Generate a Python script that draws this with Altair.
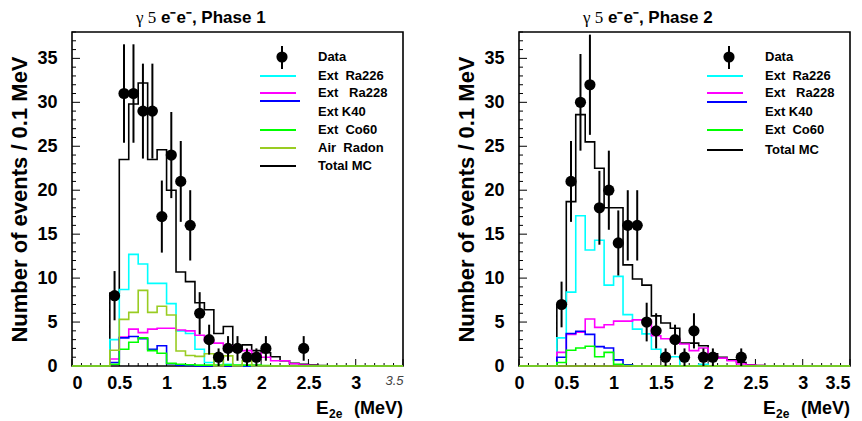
import altair as alt
import pandas as pd

# histograms are 0.1 MeV bins from 0 to 3.5 MeV, the lists below start at the 0.4 MeV bin
edges = [round(0.1 * i, 1) for i in range(36)]
first_bin = 4

# Phase 1 (events / 0.1 MeV)
p1_total = [8.3, 23.5, 29.8, 32.2, 23.5, 24.6, 20.0, 10.7, 9.6, 7.2, 6.4, 3.7, 4.5,
            2.2, 2.4, 1.75, 1.5, 1.05, 0.6, 0.3, 0.2, 0.1, 0.05]
p1_ra226 = [3.0, 8.7, 12.7, 11.6, 9.4, 9.4, 7.1, 4.0, 3.7, 1.9, 0.4, 0.7, 0.2, 0.05]
p1_ra228 = [0.8, 3.3, 4.2, 3.8, 4.2, 4.3, 4.3, 4.1, 4.0, 3.5, 2.9, 2.6, 2.3, 2.05,
            1.75, 1.45, 1.0, 0.6, 0.6, 0.25, 0.1, 0.05]
p1_k40 = [0.4, 3.2, 3.35, 3.1, 1.9, 2.3, 0.25, 0.1, 0.05]
p1_co60 = [0.2, 1.9, 2.7, 3.2, 1.75, 1.45, 0.3, 0.2, 0.15, 0.1, 0.1, 0.1, 0.1, 0.1,
           0.1, 0.1, 0.05]
p1_radon = [1.8, 5.3, 6.1, 8.6, 6.1, 6.8, 5.8, 1.7, 1.2, 1.1, 1.4, 0.0, 1.15, 0.0, 0.6]
p1_x = [0.45, 0.55, 0.65, 0.75, 0.85, 0.95, 1.05, 1.15, 1.25, 1.35, 1.45, 1.55, 1.65,
        1.75, 1.85, 1.95, 2.05, 2.45]
p1_n = [8, 31, 31, 29, 29, 17, 24, 21, 16, 6, 3, 1, 2, 2, 1, 1, 2, 2]
p1_err = [2.8, 5.6, 5.6, 5.4, 5.4, 4.1, 4.9, 4.6, 4.0, 2.4, 1.7, 1.0, 1.4, 1.4, 1.0,
          1.0, 1.4, 1.4]

# Phase 2
p2_total = [7.0, 18.7, 28.6, 25.5, 22.5, 18.0, 18.0, 11.5, 9.9, 9.2, 5.7, 4.9, 4.3,
            2.6, 2.6, 2.3, 1.4, 1.0, 0.7, 0.4, 0.15, 0.05]
p2_ra226 = [3.2, 8.4, 17.1, 13.2, 14.3, 9.2, 10.2, 5.85, 4.2, 3.65, 1.9, 1.06, 1.06,
            0.0, 0.0, 0.2]
p2_ra228 = [1.55, 3.6, 3.85, 5.35, 4.4, 4.7, 5.1, 5.1, 5.25, 5.2, 3.45, 3.1, 3.0, 2.5,
            1.75, 2.05, 1.2, 0.9, 0.6, 0.23, 0.1, 0.05]
p2_k40 = [1.0, 3.7, 3.95, 3.6, 2.2, 2.05, 0.7, 0.15]
p2_co60 = [0.4, 1.8, 2.05, 2.25, 1.06, 1.55, 0.2, 0.05]
p2_radon = []
p2_x = [0.45, 0.55, 0.65, 0.75, 0.85, 0.95, 1.05, 1.15, 1.25, 1.35, 1.45, 1.55, 1.65,
        1.75, 1.85, 1.95, 2.05, 2.35]
p2_n = [7, 21, 30, 32, 18, 20, 14, 16, 16, 5, 4, 1, 3, 1, 4, 1, 1, 1]
p2_err = [2.6, 4.6, 5.5, 5.7, 4.2, 4.5, 3.7, 4.0, 4.0, 2.2, 2.0, 1.0, 1.7, 1.0, 2.0,
          1.0, 1.0, 1.0]

x_labels = [0, 0.5, 1, 1.5, 2, 2.5, 3, 3.5]
y_labels = [0, 5, 10, 15, 20, 25, 30, 35]

C_TOT, C_226, C_228 = "black", "#00ffff", "#ff00ff"
C_K40, C_CO, C_RN = "#0000ff", "#00ff00", "#99cc22"
FONT = "Liberation Sans"
W, H = 331, 334
xsc = alt.Scale(domain=[0, 3.5], nice=False, zero=False)
ysc = alt.Scale(domain=[0, 38], nice=False)
one = pd.DataFrame({"a": [0]})


def hist_frame(vals):
    full = [0.0] * first_bin + list(vals)
    full = full + [0.0] * (35 - len(full))
    return pd.DataFrame({"x": edges, "y": full + [full[-1]]})


def make_x_axis(phase):
    is_last = "datum.value == 3.5"
    if phase == 1:
        # the 3.5 label is drawn thin and italic on the first panel
        return alt.Axis(values=x_labels, title=None, grid=False, domain=False, ticks=False,
                        labelExpr="'' + datum.value", labelFont=FONT, labelPadding=8,
                        labelColor=alt.condition(is_last, alt.value("#444444"), alt.value("black")),
                        labelFontSize=alt.condition(is_last, alt.value(13), alt.value(18)),
                        labelFontWeight=alt.condition(is_last, alt.value("normal"), alt.value("bold")),
                        labelFontStyle=alt.condition(is_last, alt.value("italic"), alt.value("normal")))
    return alt.Axis(values=x_labels, title=None, grid=False, domain=False, ticks=False,
                    labelExpr="'' + datum.value", labelFont=FONT, labelPadding=8,
                    labelColor="black", labelFontSize=18, labelFontWeight="bold",
                    labelAlign=alt.condition(is_last, alt.value("right"), alt.value("center")))


y_axis = alt.Axis(values=y_labels, title="Number of events / 0.1 MeV", grid=False,
                  domain=False, ticks=False, labelFont=FONT, labelFontSize=18,
                  labelFontWeight="bold", labelColor="black", labelPadding=15,
                  titleFont=FONT, titleFontSize=22, titleFontWeight="bold",
                  titleColor="black", titlePadding=5)


def panel(phase, hists, dx, dn, derr, legend_rows):
    x_axis = make_x_axis(phase)
    X = lambda f: alt.X(f, type="quantitative", scale=xsc, axis=x_axis)
    Y = lambda f: alt.Y(f, type="quantitative", scale=ysc, axis=y_axis)
    layers = []

    # inward ticks
    xt = pd.DataFrame({"x": edges})
    xt["len"] = [7 if round(v * 10) % 5 == 0 else 3 for v in edges]
    for ln in (3, 7):
        layers.append(alt.Chart(xt[xt["len"] == ln]).mark_rule(color="black", strokeWidth=1).encode(
            x=X("x"), y=alt.value(H), y2=alt.value(H - ln)))
    yt = pd.DataFrame({"y": list(range(39))})
    yt["len"] = [8 if v % 5 == 0 else 4 for v in yt["y"]]
    for ln in (4, 8):
        layers.append(alt.Chart(yt[yt["len"] == ln]).mark_rule(color="black", strokeWidth=1).encode(
            y=Y("y"), x=alt.value(0), x2=alt.value(ln)))

    # MC histograms
    for vals, col in hists:
        layers.append(alt.Chart(hist_frame(vals)).mark_line(
            interpolate="step-after", color=col, strokeWidth=1.6).encode(x=X("x"), y=Y("y")))

    # data with error bars
    dd = pd.DataFrame({"x": dx, "n": dn, "err": derr})
    dd["lo"] = dd["n"] - dd["err"]
    dd["hi"] = dd["n"] + dd["err"]
    layers.append(alt.Chart(dd).mark_rule(color="black", strokeWidth=2).encode(
        x=X("x"), y=Y("lo"), y2="hi"))
    layers.append(alt.Chart(dd).mark_circle(color="black", size=125, opacity=1).encode(
        x=X("x"), y=Y("n")))

    # legend
    lx0, lx1, tx = 188, 224, 246
    layers.append(alt.Chart(one).mark_circle(color="black", size=125, opacity=1).encode(
        x=alt.value(210), y=alt.value(25)))
    layers.append(alt.Chart(one).mark_rule(color="black", strokeWidth=2).encode(
        x=alt.value(210), y=alt.value(14), y2=alt.value(37)))
    layers.append(alt.Chart(one).mark_text(text="Data", align="left", baseline="middle",
                                           font=FONT, fontSize=13, fontWeight="bold").encode(
        x=alt.value(tx), y=alt.value(25)))
    for label, col, ly, ty, ext in legend_rows:
        layers.append(alt.Chart(one).mark_rule(color=col, strokeWidth=2).encode(
            x=alt.value(lx0), x2=alt.value(lx1 + ext), y=alt.value(ly)))
        layers.append(alt.Chart(one).mark_text(text=label, align="left", baseline="middle",
                                               font=FONT, fontSize=13, fontWeight="bold").encode(
            x=alt.value(tx), y=alt.value(ty)))

    # panel title: serif gamma part + bold sans part
    layers.append(alt.Chart(one).mark_text(text="γ 5", align="left", baseline="middle",
                                           font="Liberation Serif", fontSize=17).encode(
        x=alt.value(64), y=alt.value(-14)))
    layers.append(alt.Chart(one).mark_text(text=f"e\u207be\u207b, Phase {phase}", align="left",
                                           baseline="middle", font=FONT, fontSize=17,
                                           fontWeight="bold").encode(
        x=alt.value(89), y=alt.value(-14)))

    # x axis title E_2e (MeV)
    layers.append(alt.Chart(one).mark_text(text="E", align="left", baseline="alphabetic",
                                           font=FONT, fontSize=19, fontWeight="bold").encode(
        x=alt.value(244), y=alt.value(382)))
    layers.append(alt.Chart(one).mark_text(text="2e", align="left", baseline="alphabetic",
                                           font=FONT, fontSize=12, fontWeight="bold").encode(
        x=alt.value(257), y=alt.value(386)))
    layers.append(alt.Chart(one).mark_text(text="(MeV)", align="right", baseline="alphabetic",
                                           font=FONT, fontSize=18, fontWeight="bold").encode(
        x=alt.value(W), y=alt.value(382)))

    return alt.layer(*layers).properties(width=W, height=H)


rows1 = [("Ext\u00a0 Ra226", C_226, 44, 44, 0),
         ("Ext\u00a0\u00a0 Ra228", C_228, 61, 61, 0),
         ("Ext K40", C_K40, 69, 80, 4),
         ("Ext\u00a0 Co60", C_CO, 98, 98, 0),
         ("Air\u00a0 Radon", C_RN, 116, 116, 0),
         ("Total MC", C_TOT, 134, 134, 0)]
rows2 = [("Ext\u00a0 Ra226", C_226, 44, 44, 0),
         ("Ext\u00a0\u00a0 Ra228", C_228, 61, 61, 0),
         ("Ext K40", C_K40, 70, 80, 4),
         ("Ext\u00a0 Co60", C_CO, 98, 98, 0),
         ("Total MC", C_TOT, 118, 118, 0)]

h1 = [(p1_total, C_TOT), (p1_ra226, C_226), (p1_ra228, C_228), (p1_k40, C_K40),
      (p1_co60, C_CO), (p1_radon, C_RN)]
h2 = [(p2_total, C_TOT), (p2_ra226, C_226), (p2_ra228, C_228), (p2_k40, C_K40),
      (p2_co60, C_CO), (p2_radon, C_RN)]

chart = alt.hconcat(
    panel(1, h1, p1_x, p1_n, p1_err, rows1),
    panel(2, h2, p2_x, p2_n, p2_err, rows2),
    spacing=48,
).properties(
    padding={"left": 0, "top": 0, "right": 0, "bottom": 0},
    background="white",
).configure_view(stroke="black", strokeWidth=1.6)

chart.save("out.html", embed_options={"renderer": "svg", "actions": False})
